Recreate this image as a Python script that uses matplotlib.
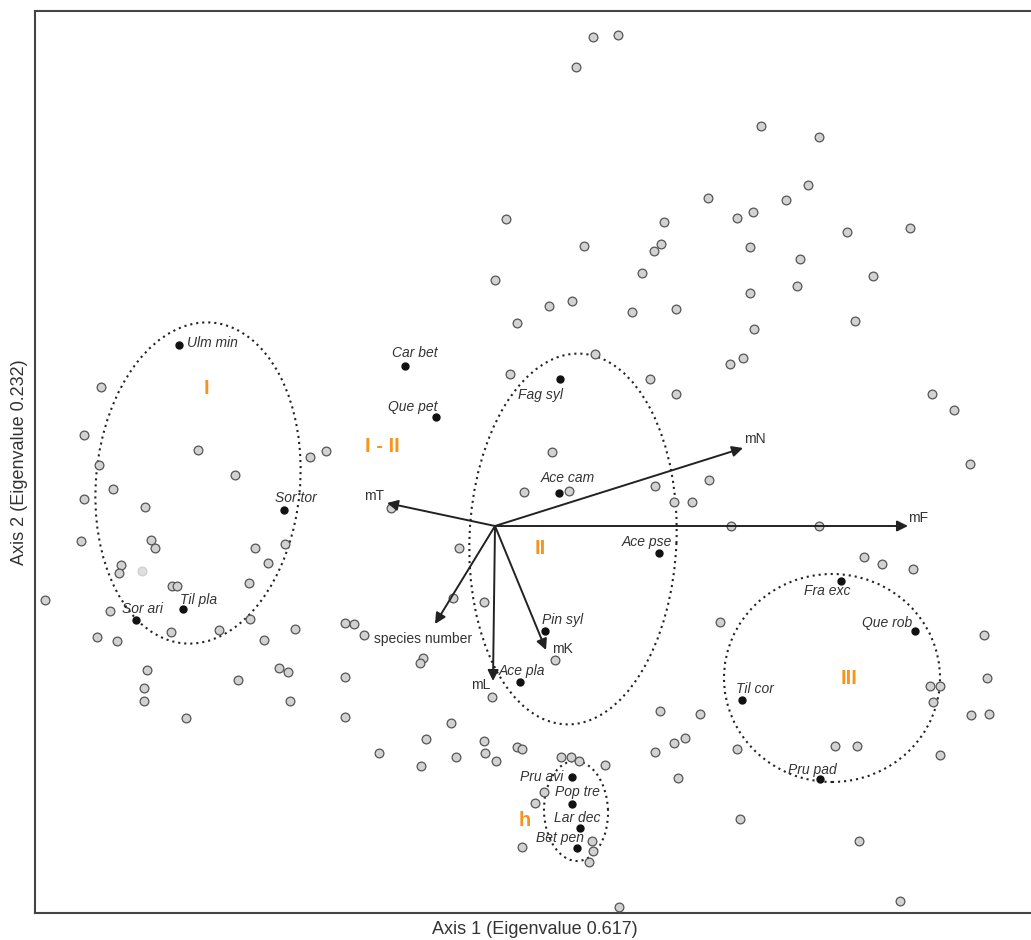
import matplotlib
matplotlib.use('Agg')
import matplotlib.pyplot as plt
from matplotlib.patches import Ellipse
import numpy as np

plt.rcParams['font.family'] = ['Liberation Sans', 'DejaVu Sans']

##################################################################
# site scores (axis 1, axis 2)
site_x = [0.98, 1.23, 0.81, 2.66, 3.24, 3.13, 2.13, 2.91, 0.11, 2.58,
          2.42, 1.69, 3.52, 4.15, 0.89, 1.66, 1.59, 2.55, 3.05, 1.47,
          3.78, 0.00, 2.55, 3.02, 0.54, 0.77, 1.37, 1.81, 0.22, 3.60,
          2.59, 2.48, 2.35, 1.00, 1.55, 1.81, 4.37, 4.59, 0.15, 0.57,
          4.75, -3.94, -4.11, -2.97, -1.85, -1.69, -3.96, -2.60, -3.82, -4.11,
          -3.50, -4.14, -3.44, -3.40, -2.40, -2.10, -3.74, -3.76, -2.27, -3.23,
          -3.18, -2.46, -4.50, -3.85, -2.45, -2.76, -3.24, -2.00, -3.98, -3.78,
          -2.31, -3.48, -3.51, -3.51, -2.57, -2.16, -2.07, -2.05, -3.09, -1.50,
          -1.41, -1.31, -1.50, -1.50, -1.04, -0.36, -0.42, -0.11, -0.72, -0.75,
          -0.03, -0.44, -0.69, -0.11, -1.16, -0.10, -0.39, -0.74, 0.01, 0.22,
          0.27, 0.66, 0.76, 0.84, 1.10, 0.49, 0.40, 0.27, 0.97, 0.98,
          0.94, 1.24, 0.60, 0.29, 0.74, 1.60, 2.14, 1.79, 1.97, 2.36,
          3.24, 3.69, 3.87, 4.18, 2.25, 4.89, 4.92, 4.35, 4.45, 4.38,
          4.76, 4.94, 1.65, 2.05, 1.79, 1.90, 1.60, 2.42, 3.40, 3.62,
          4.45, 1.83, 2.45, 3.64, 4.05]
site_y = [4.89, 4.91, 4.59, 4.00, 3.89, 3.41, 3.28, 3.26, 3.07, 3.14,
          3.08, 3.04, 2.94, 2.98, 2.80, 2.82, 2.75, 2.79, 2.67, 2.53,
          2.50, 2.46, 2.33, 2.40, 2.20, 2.25, 2.14, 2.17, 2.03, 2.05,
          1.97, 1.68, 1.62, 1.72, 1.47, 1.32, 1.32, 1.16, 1.52, 0.74,
          0.62, 1.39, 0.91, 0.76, 0.69, 0.75, 0.61, 0.51, 0.37, 0.27,
          0.19, -0.15, -0.14, -0.22, -0.22, -0.18, -0.39, -0.47, -0.37, -0.60,
          -0.60, -0.57, -0.74, -0.85, -0.93, -1.04, -1.06, -1.03, -1.11, -1.15,
          -1.14, -1.44, -1.62, -1.75, -1.54, -1.42, -1.46, -1.75, -1.92, -0.97,
          -0.98, -1.09, -1.51, -1.91, 0.18, -0.22, -0.72, -0.76, -1.32, -1.37,
          -1.71, -1.97, -2.13, -2.15, -2.27, -2.27, -2.31, -2.40, -2.35, -2.21,
          -2.23, -2.31, -2.31, -2.35, -2.39, -2.66, -2.77, -3.21, -3.15, -3.25,
          -3.36, -3.81, -1.34, 0.34, 0.35, 0.40, 0.46, 0.24, 0.24, 0.00,
          0.00, -0.31, -0.38, -0.43, -0.96, -1.09, -1.52, -1.60, -1.60, -1.76,
          -1.89, -1.88, -1.85, -1.88, -2.17, -2.12, -2.26, -2.23, -2.20, -2.20,
          -2.29, -2.52, -2.93, -3.15, -3.75]
# one site drawn faded
faded_x = [-3.53]
faded_y = [-0.45]

# species scores
species = ['Ulm min', 'Car bet', 'Que pet', 'Fag syl', 'Sor tor', 'Ace cam',
           'Ace pse', 'Til pla', 'Sor ari', 'Pin syl', 'Ace pla', 'Fra exc',
           'Que rob', 'Til cor', 'Pru pad', 'Pru avi', 'Pop tre', 'Lar dec',
           'Bet pen']
sp_x = [-3.16, -0.90, -0.59, 0.65, -2.11, 0.64, 1.64, -3.12, -3.59, 0.50,
        0.25, 3.46, 4.20, 2.47, 3.25, 0.77, 0.77, 0.85, 0.82]
sp_y = [1.81, 1.60, 1.09, 1.47, 0.16, 0.33, -0.27, -0.83, -0.94, -1.05,
        -1.56, -0.55, -1.05, -1.74, -2.53, -2.51, -2.78, -3.02, -3.22]

# environmental vectors
env = ['mT', 'mN', 'mF', 'species number', 'mL', 'mK']
env_x = [-1.08, 2.48, 4.13, -0.60, -0.02, 0.51]
env_y = [0.23, 0.78, 0.00, -0.98, -1.55, -1.24]

# groups
groups = ['I', 'I - II', 'II', 'III', 'h']
group_x = [-2.89, -1.13, 0.45, 3.54, 0.30]
group_y = [1.38, 0.79, -0.23, -1.52, -2.94]

##################################################################
# label offsets in pixels
sp_off = [(8, 2, 'left'), (10, 13, 'center'), (-23, 10, 'center'),
          (-20, -16, 'center'), (12, 12, 'center'), (9, 15, 'center'),
          (-12, 11, 'center'), (16, 9, 'center'), (7, 11, 'center'),
          (18, 11, 'center'), (2, 11, 'center'), (-14, -10, 'center'),
          (-28, 8, 'center'), (13, 11, 'center'), (-8, 9, 'center'),
          (-30, 0, 'center'), (5, 12, 'center'), (-3, 10, 'center'),
          (-17, 10, 'center')]
env_off = [(-13, 7), (12, 9), (10, 8), (-12, -15), (-12, -4), (16, 1)]

fig = plt.figure(figsize=(10.31, 9.40), dpi=100)
ax = fig.add_axes([35/1031, 27/940, 999/1031, 902/940])

ax.plot(site_x, site_y, 'o', ms=6.3, mfc='#d2d2d2', mec='#555555', mew=0.9, zorder=3)
ax.plot(faded_x, faded_y, 'o', ms=6.3, mfc='#dedede', mec='#cfcfcf', mew=0.9, zorder=3)

ax.plot(sp_x, sp_y, 'o', ms=5, color='#111111', zorder=4)
for i in range(len(species)):
    dx, dy, ha = sp_off[i]
    ax.annotate(species[i], (sp_x[i], sp_y[i]), xytext=(dx*0.72, dy*0.72),
                textcoords='offset points', ha=ha, va='center',
                fontsize=10, style='italic', color='#333333', zorder=5)

for i in range(len(env)):
    ax.annotate('', xy=(env_x[i], env_y[i]), xytext=(0, 0),
                arrowprops=dict(arrowstyle='-|>', color='#222222', lw=1.4,
                                mutation_scale=16, shrinkA=0, shrinkB=0),
                zorder=6)
    dx, dy = env_off[i]
    ax.annotate(env[i], (env_x[i], env_y[i]), xytext=(dx*0.72, dy*0.72),
                textcoords='offset points', ha='center', va='center',
                fontsize=10, color='#333333', zorder=5)

# dotted outlines of the groups
ells = [((-2.97, 0.43), 3.22, 2.04, 84.8),
        ((0.78, -0.13), 3.71, 2.07, 87.7),
        ((3.37, -1.52), 2.16, 2.08, 0),
        ((0.81, -2.85), 1.00, 0.64, 92)]
for c, w, h, a in ells:
    ax.add_patch(Ellipse(c, w, h, angle=a, fill=False, ec='#222222',
                         lw=1.5, ls=(0, (1, 1.9)), zorder=2))

for i in range(len(groups)):
    ax.text(group_x[i], group_y[i], groups[i], ha='center', va='center',
            fontsize=14.5, fontweight='bold', color='#f7941d', zorder=5)

ax.set_xlim(-4.60, 5.39)
ax.set_ylim(-3.87, 5.15)
ax.set_xticks([])
ax.set_yticks([])
for s in ax.spines.values():
    s.set_color('#444444')
    s.set_linewidth(1.5)

ax.set_xlabel('Axis 1 (Eigenvalue 0.617)', fontsize=13, color='#333333', labelpad=6)
ax.set_ylabel('Axis 2 (Eigenvalue 0.232)', fontsize=13, color='#333333', labelpad=5)

fig.savefig('out.png', dpi=100)
